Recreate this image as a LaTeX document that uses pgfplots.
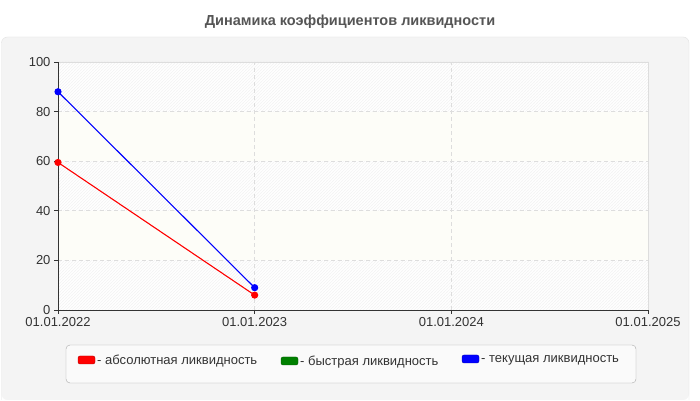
\documentclass[border=0pt]{standalone}
\usepackage{fontspec}
\setmainfont{Liberation Sans}
\usepackage{pgfplots}
\pgfplotsset{compat=1.18}
\usetikzlibrary{patterns}
\definecolor{panel}{HTML}{F4F4F4}
\definecolor{panelborder}{HTML}{E2E2E2}
\definecolor{titlecol}{HTML}{555555}
\definecolor{txt}{HTML}{333333}
\definecolor{gridc}{HTML}{DDDDDD}
\definecolor{band}{HTML}{FDFDF8}
\definecolor{hatch}{HTML}{F0F0F0}
\definecolor{legfill}{HTML}{FAFAFA}
\definecolor{legborder}{HTML}{AAAAAA}
\definecolor{dgreen}{HTML}{008000}
\begin{document}
\begin{tikzpicture}
\fill[white] (0,0) rectangle (700pt,400pt);
\fill[panel, rounded corners=6pt] (1.5pt,0pt) -- (1.5pt,363pt) -- (689pt,363pt) -- (689pt,0pt) -- cycle;
\draw[panelborder, rounded corners=6pt] (1.5pt,0pt) -- (1.5pt,363pt) -- (689pt,363pt) -- (689pt,0pt);
\node[font=\bfseries\fontsize{14.5}{17}\selectfont, text=titlecol] at (350pt,378.5pt) {Динамика коэффициентов ликвидности};
% plot area background
\fill[white] (58pt,90pt) rectangle (648pt,338pt);
\fill[pattern=north east lines, pattern color=hatch] (58pt,90pt) rectangle (648pt,338pt);
\fill[band] (58pt,139.6pt) rectangle (648pt,189.2pt);
\fill[band] (58pt,238.8pt) rectangle (648pt,288.4pt);
\draw[gridc, line width=0.8pt] (58pt,338pt) -- (648pt,338pt) -- (648pt,90pt);
\begin{axis}[
  at={(58pt,90pt)}, anchor=south west,
  scale only axis, width=590pt, height=248pt,
  xmin=0, xmax=3, ymin=0, ymax=100,
  xtick={0,1,2,3},
  xticklabels={01.01.2022,01.01.2023,01.01.2024,01.01.2025},
  ytick={0,20,40,60,80,100},
  axis lines*=left,
  axis line style={draw=txt, line width=0.9pt},
  tick align=outside,
  major tick length=4pt,
  tick style={draw=txt, line width=0.8pt},
  grid=major,
  major grid style={draw=gridc, dash pattern=on 4pt off 3pt, line width=0.7pt},
  tick label style={font=\fontsize{13}{15}\selectfont, text=txt},
  /pgf/number format/assume math mode=true,
  clip=false,
]
\addplot[red, line width=1.1pt, mark=*, mark size=3pt, mark options={fill=red, draw=red}] coordinates {(0,59.5) (1,6)};
\addplot[blue, line width=1.1pt, mark=*, mark size=3pt, mark options={fill=blue, draw=blue}] coordinates {(0,88) (1,9)};
\end{axis}
% legend
\draw[legborder, fill=legfill, rounded corners=4pt] (66pt,17pt) rectangle (636pt,55pt);
\begin{scope}[every node/.style={font=\fontsize{13}{15}\selectfont, text=txt, anchor=west, inner sep=0pt}]
\draw[draw=red!70!black, fill=red, rounded corners=2pt] (78pt,36pt) rectangle (95pt,44pt);
\node at (97pt,39pt) {- абсолютная ликвидность};
\draw[draw=dgreen!70!black, fill=dgreen, rounded corners=2pt] (281pt,35pt) rectangle (298pt,43pt);
\node at (300pt,38pt) {- быстрая ликвидность};
\draw[draw=blue!70!black, fill=blue, rounded corners=2pt] (462pt,37pt) rectangle (479pt,45pt);
\node at (481pt,40pt) {- текущая ликвидность};
\end{scope}
\end{tikzpicture}
\end{document}
